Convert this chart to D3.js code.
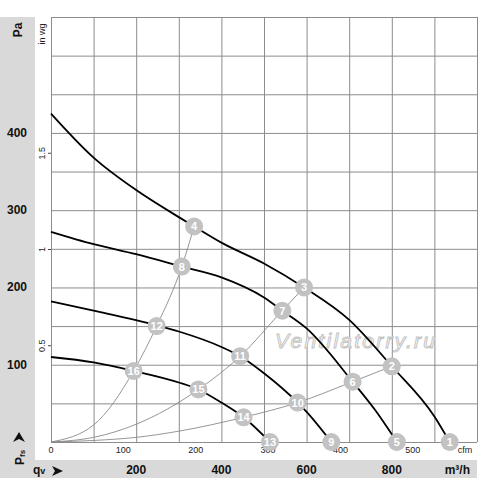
<!DOCTYPE html>
<html>
<head>
<meta charset="utf-8">
<script src="https://cdn.jsdelivr.net/npm/d3@7"></script>
<style>
body{margin:0;background:#fff;}
svg{display:block;font-family:Arial,"Liberation Sans",sans-serif;}
</style>
</head>
<body>
<div id="chart"></div>
<script>
//DATA (q in m³/h, p in Pa)
const curveA = [[0,425],[100,368],[200,326],[300,291],[336,279],[400,258],[500,231],[594,200],[700,158],[800,98],[900,33],[936,0]];
const curveB = [[0,272],[100,256],[200,243],[307,227],[400,213],[500,187],[543,170],[600,147],[708,78],[760,42],[812,0]];
const curveC = [[0,182],[100,170],[248,151],[300,143],[400,123],[444,111],[500,89],[579,51],[600,39],[658,0]];
const curveD = [[0,110],[100,103],[194,92],[300,77],[346,68],[400,51],[452,32],[514,0]];
const systemA = [[0,0],[100,22],[194,92],[248,150],[307,227],[336,279]];
const systemB = [[0,0],[100,6],[200,23],[346,68],[444,111],[543,170],[594,200]];
const systemC = [[0,0],[100,2],[200,6],[300,14],[452,32],[579,51],[708,78],[800,98]];
const markerLabels = ['1','2','3','4','5','6','7','8','9','10','11','12','13','14','15','16'];
const markerQ = [936,800,594,336,812,708,543,307,658,579,444,248,514,452,346,194];
const markerP = [0,98,200,279,0,78,170,227,0,51,111,150,0,32,68,92];
const qTicks = [200,400,600,800];
const paTicks = [100,200,300,400];
const cfmTicks = [0,100,200,300,400,500];
const wgTicks = [0.5,1,1.5];

//SIZES
const W = 500, H = 483;
const mLeft = 51, mRight = 477, mTop = 17, mBottom = 442;

const svg = d3.select('#chart').append('svg').attr('width', W).attr('height', H);

//SCALES
const x = d3.scaleLinear().domain([0,1000]).range([mLeft,mRight]);
const y = d3.scaleLinear().domain([0,550]).range([mBottom,mTop]);
const xCfm = d3.scaleLinear().domain([0,1000/1.699]).range([mLeft,mRight]);
const yWg = d3.scaleLinear().domain([0,550/249.1]).range([mBottom,mTop]);

//GREY BANDS
svg.append('rect').attr('x',0).attr('y',mTop).attr('width',35).attr('height',478-mTop).attr('fill','#d9d9d9');
svg.append('rect').attr('x',0).attr('y',460).attr('width',mRight).attr('height',18).attr('fill','#d9d9d9');

//GRID
const grid = svg.append('g');
grid.append('g').attr('transform','translate(0,'+mBottom+')')
    .call(d3.axisBottom(x).tickValues(d3.range(0,1001,100)).tickSize(-(mBottom-mTop)).tickFormat(''));
grid.append('g').attr('transform','translate('+mLeft+',0)')
    .call(d3.axisLeft(y).tickValues(d3.range(0,551,50)).tickSize(-(mRight-mLeft)).tickFormat(''));
grid.selectAll('.domain').remove();
grid.selectAll('line').attr('stroke','#8c8c8c').attr('stroke-width',1);

//WATERMARK
svg.append('text').attr('x',355).attr('y',348).attr('text-anchor','middle')
    .attr('font-size',21).attr('font-style','italic').attr('textLength',160)
    .attr('fill','#ffffff').attr('stroke','#c4c4c4').attr('stroke-width',1)
    .text('Ventilatorry.ru');

//PA LABELS
svg.selectAll('.pa').data(paTicks).enter().append('text')
    .attr('x',17).attr('y', d => y(d) + 4).attr('text-anchor','middle')
    .attr('font-size',12).attr('font-weight','bold').attr('fill','#111').text(d => d);
svg.append('text').attr('transform','translate(22,30) rotate(-90)').attr('text-anchor','middle')
    .attr('font-size',12).attr('font-weight','bold').attr('fill','#111').text('Pa');

//IN WG LABELS
svg.selectAll('.wg').data(wgTicks).enter().append('text')
    .attr('transform', d => 'translate(45,' + yWg(d) + ') rotate(-90)').attr('text-anchor','middle')
    .attr('font-size',9).attr('fill','#222').text(d => d);
svg.selectAll('.wgtick').data(wgTicks).enter().append('line')
    .attr('x1',48).attr('x2',51).attr('y1', d => yWg(d)).attr('y2', d => yWg(d))
    .attr('stroke','#444').attr('stroke-width',1);
svg.append('text').attr('transform','translate(45,34) rotate(-90)').attr('text-anchor','middle')
    .attr('font-size',9).attr('fill','#222').text('in wg');

//CFM LABELS
svg.selectAll('.cfm').data(cfmTicks).enter().append('text')
    .attr('x', d => xCfm(d)).attr('y',453).attr('text-anchor','middle')
    .attr('font-size',9).attr('fill','#222').text(d => d);
svg.append('text').attr('x',465).attr('y',453).attr('text-anchor','middle')
    .attr('font-size',9).attr('fill','#222').text('cfm');

//M3/H LABELS
svg.selectAll('.q').data(qTicks).enter().append('text')
    .attr('x', d => x(d)).attr('y',474).attr('text-anchor','middle')
    .attr('font-size',12).attr('font-weight','bold').attr('fill','#111').text(d => d);
svg.append('text').attr('x',470).attr('y',474).attr('text-anchor','end')
    .attr('font-size',12).attr('font-weight','bold').attr('fill','#111').text('m³/h');

//AXIS NAMES
const qv = svg.append('text').attr('x',33).attr('y',474).attr('font-weight','bold').attr('fill','#111');
qv.append('tspan').attr('font-size',12).text('q');
qv.append('tspan').attr('font-size',9).text('v');
svg.append('path').attr('d','M52,466 L63,471 L52,476 L55,471 Z').attr('fill','#111');

const pfs = svg.append('g').attr('transform','translate(24,465) rotate(-90)');
const pt = pfs.append('text').attr('x',0).attr('y',0).attr('font-weight','bold').attr('fill','#111');
pt.append('tspan').attr('font-size',12).text('P');
pt.append('tspan').attr('font-size',8).attr('dy',1).text('fs');
pfs.append('path').attr('d','M23,-11 L33,-5 L23,1 L26,-5 Z').attr('fill','#111');

//LINES
const line = d3.line().x(d => x(d[0])).y(d => y(d[1])).curve(d3.curveMonotoneX);
[systemA, systemB, systemC].forEach(s => {
    svg.append('path').attr('d', line(s)).attr('fill','none').attr('stroke','#8a8a8a').attr('stroke-width',0.9);
});
[curveA, curveB, curveC, curveD].forEach(c => {
    svg.append('path').attr('d', line(c)).attr('fill','none').attr('stroke','#000').attr('stroke-width',1.8);
});

//MARKERS
const marker = svg.selectAll('.marker').data(markerLabels).enter().append('g')
    .attr('transform', (d,i) => 'translate(' + x(markerQ[i]) + ',' + y(markerP[i]) + ')');
marker.append('circle').attr('r',9).attr('fill','#c2c2c2');
marker.append('text').attr('dy','0.36em').attr('text-anchor','middle')
    .attr('font-size',11).attr('font-weight','bold').attr('fill','#fff').text(d => d);
</script>
</body>
</html>
